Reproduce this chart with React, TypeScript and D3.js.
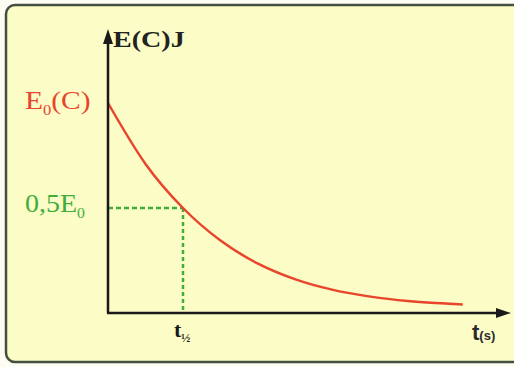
import React from "react";
import * as d3 from "d3";

// Decay curve (time in half-lives, energy as fraction of E0)
const times = [0, 0.5, 1, 1.5, 2, 2.5, 3, 3.5, 4, 4.5, 4.73];
const energy = [1, 0.71, 0.5, 0.345, 0.235, 0.16, 0.11, 0.078, 0.057, 0.045, 0.04];
const halfLife = [1];
const halfLevel = [0.5];
const yAxisLabel = "E(C)J";
const xAxisLabel = "t";

export default function App() {
  const W = 514, H = 367;
  const x0 = 108, y0 = 313;
  const x = d3.scaleLinear().domain([0, 1]).range([x0, 183]);
  const y = d3.scaleLinear().domain([0, 1]).range([y0, 103]);
  const line = d3
    .line<number>()
    .x((_, i) => x(times[i]))
    .y((d) => y(d))
    .curve(d3.curveMonotoneX);
  const red = "#e8452c";
  const green = "#3fae3a";
  const serif = "'Liberation Serif', 'DejaVu Serif', serif";
  return (
    <svg
      width={W}
      height={H}
      style={{ position: "absolute", left: 0, top: 0, background: "#fdfdf4" }}
    >
      <rect x={6} y={5} width={530} height={357} rx={9} fill="#fbfcc6" stroke="#44503f" strokeWidth={2.5} />
      {/* dashed guides */}
      <line x1={x0} x2={x(halfLife[0])} y1={y(halfLevel[0])} y2={y(halfLevel[0])} stroke={green} strokeWidth={2.5} strokeDasharray="5,3" />
      <line x1={x(halfLife[0])} x2={x(halfLife[0])} y1={y(halfLevel[0])} y2={y0} stroke={green} strokeWidth={2.5} strokeDasharray="4,3" />
      {/* curve */}
      <path d={line(energy) || ""} fill="none" stroke={red} strokeWidth={2.5} />
      {/* axes */}
      <line x1={x0} x2={x0} y1={y0} y2={40} stroke="#1a1a1a" strokeWidth={2.5} />
      <path d={`M${x0 - 5},${44} L${x0},${29} L${x0 + 5},${44} Z`} fill="#1a1a1a" />
      <line x1={x0 - 1} x2={498} y1={y0} y2={y0} stroke="#1a1a1a" strokeWidth={2.5} />
      <path d={`M${496},${y0 - 5} L${511},${y0} L${496},${y0 + 5} Z`} fill="#1a1a1a" />
      {/* labels */}
      <text transform="translate(113,47) scale(1.17,1)" fontFamily={serif} fontSize={24} fontWeight="bold" fill="#222">{yAxisLabel}</text>
      <text transform="translate(25,109) scale(1.18,1)" fontFamily={serif} fontSize={25} fill={red}>
        E<tspan fontSize={14} dy={6}>0</tspan><tspan dy={-6}>(C)</tspan>
      </text>
      <text transform="translate(25,212) scale(1.12,1)" fontFamily={serif} fontSize={25} fill={green}>
        0,5E<tspan fontSize={14} dy={6}>0</tspan>
      </text>
      <text x={174} y={337} fontFamily={serif} fontSize={22} fontWeight="bold" fill="#1a1a1a">
        t<tspan fontSize={12} dy={5}>½</tspan>
      </text>
      <text x={472} y={340} fontFamily="'Liberation Sans', Arial, sans-serif" fontSize={22} fontWeight="bold" fill="#2a2a2a">
        {xAxisLabel}<tspan fontSize={13}>(s)</tspan>
      </text>
    </svg>
  );
}
